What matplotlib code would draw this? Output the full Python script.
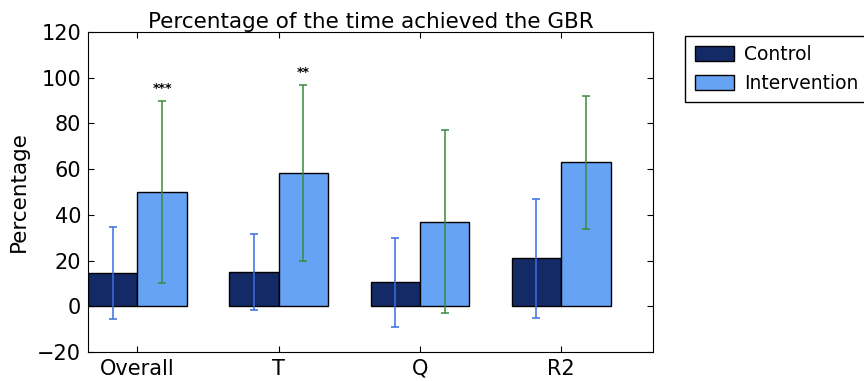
import numpy as np
import matplotlib
matplotlib.use("Agg")
import matplotlib.pyplot as plt

categories = ["Overall", "T", "Q", "R2"]
control_mean = [14.5, 15.0, 10.5, 21.0]
control_err = [20.0, 16.5, 19.5, 26.0]
intervention_mean = [50.0, 58.5, 37.0, 63.0]
intervention_err = [40.0, 38.5, 40.0, 29.0]
significance = ["***", "**", "", ""]

width = 0.35
ind = np.arange(len(categories))

fig = plt.figure(figsize=(8.64, 3.81), dpi=100)
ax = fig.add_axes([88 / 864, 1 - 352 / 381, 565 / 864, 320 / 381])

ax.bar(ind, control_mean, width, align="edge", color="#142a66",
       edgecolor="black", linewidth=1.0, label="Control",
       yerr=control_err, error_kw=dict(ecolor="#3a6ee0", elinewidth=1.1,
                                       capsize=3, capthick=1.1))
ax.bar(ind + width, intervention_mean, width, align="edge", color="#66a3f5",
       edgecolor="black", linewidth=1.0, label="Intervention",
       yerr=intervention_err, error_kw=dict(ecolor="#3b8a3b", elinewidth=1.1,
                                            capsize=3, capthick=1.1))

for i, s in enumerate(significance):
    if s:
        ax.text(ind[i] + 1.5 * width, intervention_mean[i] + intervention_err[i] + 2.5,
                s, ha="center", va="bottom", fontsize=9, fontweight="bold")

ax.set_xlim(0, 4)
ax.set_ylim(-20, 120)
ax.set_yticks(np.arange(-20, 121, 20))
ax.set_xticks(ind + width)
ax.set_xticklabels(categories)
ax.tick_params(direction="in", top=True, right=True, labelsize=15, length=4, pad=5)
ax.set_ylabel("Percentage", fontsize=15.5, labelpad=6)
ax.set_title("Percentage of the time achieved the GBR", fontsize=15.5, pad=3)

ax.legend(loc="upper left", bbox_to_anchor=(1.057, 0.9875), fontsize=13.5,
          fancybox=False, edgecolor="black", framealpha=1,
          handlelength=2.1, handleheight=0.85, handletextpad=0.55,
          borderpad=0.5, labelspacing=0.5, borderaxespad=0)

fig.savefig("out.png", dpi=100)
